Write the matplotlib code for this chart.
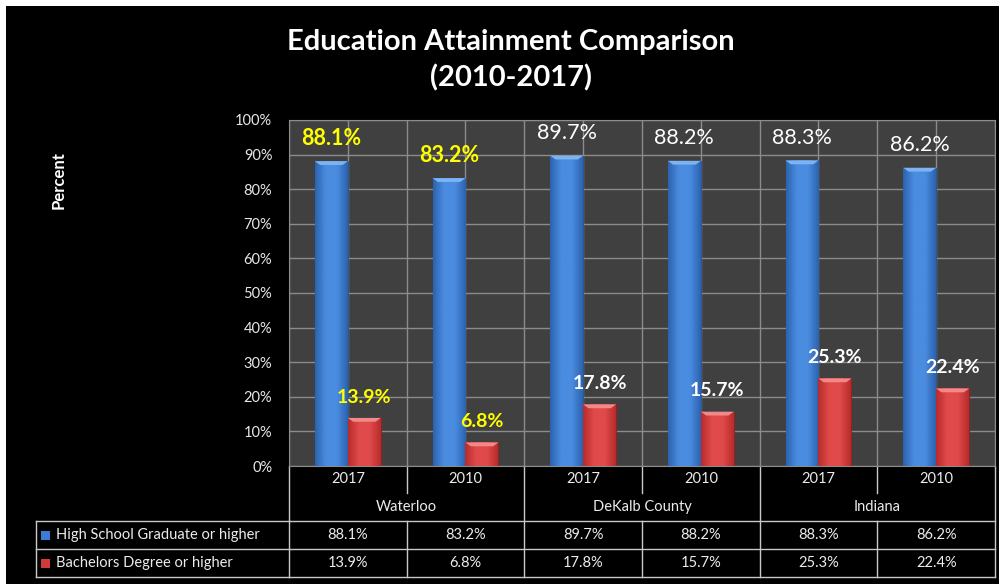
import numpy as np
import matplotlib
matplotlib.use('Agg')
import matplotlib.pyplot as plt
from matplotlib.patches import Rectangle, Polygon
from matplotlib.lines import Line2D
from matplotlib.transforms import blended_transform_factory
from matplotlib.colors import LinearSegmentedColormap

plt.rcParams['font.family'] = ['Lato', 'DejaVu Sans']

W, H = 1004, 584

years = ['2017', '2010', '2017', '2010', '2017', '2010']
places = ['Waterloo', 'DeKalb County', 'Indiana']
series_names = ['High School Graduate or higher', 'Bachelors Degree or higher']
high_school = [88.1, 83.2, 89.7, 88.2, 88.3, 86.2]
bachelors = [13.9, 6.8, 17.8, 15.7, 25.3, 22.4]


def fx(px):
    return px / W


def fy(py):
    # pixel rows counted from the top of the picture
    return 1 - py / H


def shade(ax, bars, dark, light, top):
    """fake the excel bevel look: horizontal gradient plus a light cap"""
    cmap = LinearSegmentedColormap.from_list('g', [dark, light, light, dark])
    grad = np.linspace(0, 1, 64).reshape(1, -1)
    for b in bars:
        x0 = b.get_x()
        x1 = x0 + b.get_width()
        h = b.get_height()
        im = ax.imshow(grad, cmap=cmap, extent=(x0, x1, 0, h), aspect='auto',
                       origin='lower', zorder=3)
        im.set_clip_path(b)
        cap = min(1.1, h * 0.3)
        inset = b.get_width() * 0.16
        ax.add_patch(Polygon([(x0, h), (x1, h), (x1 - inset, h - cap), (x0 + inset, h - cap)],
                             closed=True, facecolor=top, edgecolor='none', zorder=4))


fig = plt.figure(figsize=(W / 100, H / 100), dpi=100, facecolor='white')
fig.patches.append(Rectangle((fx(6), fy(584)), fx(999) - fx(6), fy(6) - fy(584),
                             transform=fig.transFigure, facecolor='black', edgecolor='none', zorder=-5))

ax = fig.add_axes([fx(289), fy(466), fx(995) - fx(289), fy(120) - fy(466)])
ax.set_zorder(2)
ax.set_facecolor('#404040')

x = np.arange(len(years))
w = 0.28
b1 = ax.bar(x - w / 2, high_school, w, color='#3b7bd4', edgecolor='#2a5894', lw=0.8, zorder=2)
b2 = ax.bar(x + w / 2, bachelors, w, color='#d03a3a', edgecolor='#8e2323', lw=0.8, zorder=2)
shade(ax, b1, '#2d63b0', '#4a8ce0', '#7db4f0')
shade(ax, b2, '#b82c2c', '#e04a4a', '#f08a8a')

for i in range(len(years)):
    col = '#ffff00' if i < 2 else 'white'
    ax.annotate(f'{high_school[i]}%', (x[i] - w / 2, high_school[i]), xytext=(0, 16.5),
                textcoords='offset points', ha='center', va='center', fontsize=15.5,
                fontweight='bold' if i < 2 else 'normal', color=col, zorder=6,
                annotation_clip=False)
    ax.annotate(f'{bachelors[i]}%', (x[i] + w / 2, bachelors[i]), xytext=(0, 15),
                textcoords='offset points', ha='center', va='center', fontsize=14,
                fontweight='bold', color=col, zorder=6)

ax.set_xlim(-0.5, len(years) - 0.5)
ax.set_ylim(0, 100)
ax.set_yticks(np.arange(0, 101, 10))
ax.set_yticklabels([f'{v}%' for v in range(0, 101, 10)], color='#e8e8e8', fontsize=10.5)
ax.set_xticks(np.arange(-0.5, len(years), 1))
ax.set_xticks(x, minor=True)
ax.set_xticklabels([])
ax.tick_params(axis='both', which='both', length=0, pad=12)
ax.grid(True, which='both', color='#8c8c8c', lw=1, zorder=1)
ax.set_axisbelow(True)
for s in ax.spines.values():
    s.set_color('#8c8c8c')

fig.text(fx(511), fy(42), 'Education Attainment Comparison', ha='center', va='center',
         fontsize=21, fontweight='bold', color='white')
fig.text(fx(511), fy(78), '(2010-2017)', ha='center', va='center',
         fontsize=21, fontweight='bold', color='white')
fig.text(fx(59), fy(180), 'Percent', rotation=90, ha='center', va='center',
         fontsize=12, fontweight='bold', color='white')

# data table under the axis
tr = blended_transform_factory(ax.transData, fig.transFigure)
lc = '#c8c8c8'


def vline(xd, top, bot):
    fig.add_artist(Line2D([xd, xd], [fy(top), fy(bot)], transform=tr, color=lc, lw=1))


def hline(py):
    fig.add_artist(Line2D([-0.5, len(years) - 0.5], [fy(py), fy(py)], transform=tr, color=lc, lw=1))


for xd in np.arange(-0.5, len(years), 2):
    vline(xd, 466, 577)
for xd in np.arange(0.5, len(years) - 1, 2):
    vline(xd, 466, 493)
    vline(xd, 521, 577)
for py in (521, 549, 577):
    hline(py)
    fig.add_artist(Line2D([fx(36), fx(289)], [fy(py), fy(py)], transform=fig.transFigure, color=lc, lw=1))
fig.add_artist(Line2D([fx(36), fx(36)], [fy(521), fy(577)], transform=fig.transFigure, color=lc, lw=1))

tc = '#ececec'
for i in range(len(years)):
    fig.text(x[i], fy(479), years[i], transform=tr, ha='center', va='center', fontsize=10.5, color=tc)
    fig.text(x[i], fy(535), f'{high_school[i]}%', transform=tr, ha='center', va='center', fontsize=10.5, color=tc)
    fig.text(x[i], fy(563), f'{bachelors[i]}%', transform=tr, ha='center', va='center', fontsize=10.5, color=tc)
for j, p in enumerate(places):
    fig.text(2 * j + 0.5, fy(507), p, transform=tr, ha='center', va='center', fontsize=10.5, color=tc)

for py, name, fc in ((535, series_names[0], '#3b7bd4'), (563, series_names[1], '#d03a3a')):
    fig.patches.append(Rectangle((fx(41), fy(py + 4.5)), fx(9), 9 / H, transform=fig.transFigure,
                                 facecolor=fc, edgecolor='none', zorder=3))
    fig.text(fx(56), fy(py), name, ha='left', va='center', fontsize=10.5, color=tc)

fig.savefig('out.png', dpi=100, facecolor=fig.get_facecolor())
